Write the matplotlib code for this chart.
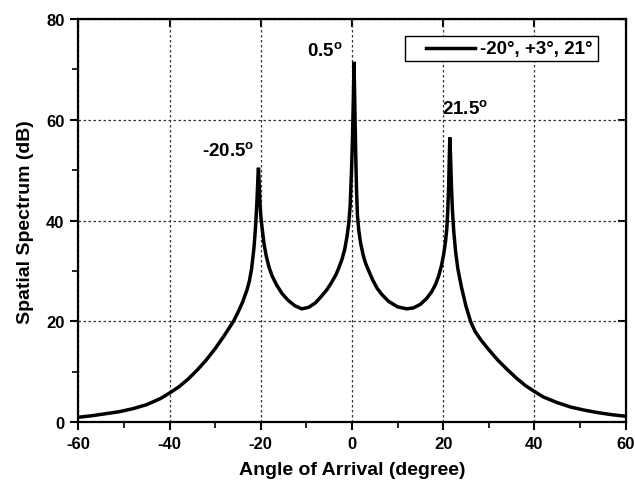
import matplotlib

matplotlib.use("Agg")
import matplotlib.pyplot as plt
from matplotlib.lines import Line2D
from matplotlib.patches import Rectangle
from matplotlib.ticker import MultipleLocator

# spatial spectrum
angle_deg = [
    -60, -57, -54, -51, -48, -45, -42, -40, -38, -36, -34, -32, -30, -28, -26,
    -25, -24, -23, -22.5, -22, -21.5, -21.2, -21.0, -20.8, -20.6, -20.5, -20.4,
    -20.2, -20.0, -19.7, -19.3, -18.8, -18.2, -17.5, -16.5, -15.3, -14.0, -12.5,
    -11.0, -9.5, -8.0, -6.7, -5.5, -4.5, -3.5, -2.9, -2.2, -1.6, -1.1, -0.7,
    -0.4, -0.1, 0.1, 0.3, 0.45, 0.6, 0.8, 1.0, 1.2, 1.5, 1.9, 2.5, 3.0, 3.6,
    4.5, 5.5, 6.5, 8.0, 10.0, 12.0, 13.5, 15.0, 16.3, 17.4, 18.3, 19.0, 19.6,
    20.1, 20.5, 20.8, 21.0, 21.2, 21.35, 21.45, 21.6, 21.8, 22.0, 22.3, 22.7,
    23.2, 24.0, 25.0, 26.0, 27.0, 28.3, 29.8, 32, 34, 36, 38, 40, 42, 45, 48,
    51, 54, 57, 60,
]
spectrum_db = [
    1.0, 1.3, 1.7, 2.1, 2.7, 3.5, 4.7, 5.8, 7.0, 8.5, 10.3, 12.3, 14.6, 17.2, 20.0,
    21.8, 23.8, 26.3, 28.0, 30.5, 34.5, 38.0, 41.0, 44.5, 49.0, 50.5, 48.5,
    44.0, 41.0, 38.5, 35.5, 33.0, 30.8, 29.0, 27.2, 25.5, 24.2, 23.1,
    22.5, 22.8, 23.7, 25.0, 26.3, 27.7, 29.3, 30.6, 32.3, 34.3, 36.8, 39.5,
    43.0, 50.0, 56.0, 64.0, 71.5, 64.0, 54.0, 46.0, 41.0, 38.0, 35.5, 33.0, 31.5, 30.2,
    28.3, 26.6, 25.4, 24.0, 22.9, 22.5, 22.7, 23.4, 24.5, 25.8, 27.3, 29.0, 31.0,
    33.3, 35.8, 38.5, 42.0, 47.0, 53.0, 56.5, 53.0, 47.0, 42.5, 38.0, 34.0,
    30.5, 26.8, 23.0, 20.0, 18.0, 16.3, 14.6, 12.3, 10.5, 8.8, 7.3, 6.1, 5.0, 3.9, 3.0,
    2.4, 1.9, 1.5, 1.2,
]

peak_labels = ["-20.5", "0.5", "21.5"]
peak_label_x = [-27.2, -5.9, 24.8]
peak_label_y = [53.8, 73.8, 62.3]

legend_label = "-20°, +3°, 21°"

plt.rcParams["font.family"] = ["Liberation Sans", "DejaVu Sans"]
plt.rcParams["font.weight"] = "bold"
plt.rcParams["axes.unicode_minus"] = False
plt.rcParams["mathtext.fontset"] = "custom"
plt.rcParams["mathtext.bf"] = "Liberation Sans:bold"
plt.rcParams["mathtext.rm"] = "Liberation Sans:bold"

fig = plt.figure(figsize=(6.35, 4.89), dpi=100)
ax = fig.add_axes([0.1233, 0.1344, 0.862, 0.8247])

ax.plot(angle_deg, spectrum_db, color="black", linewidth=2.5,
        solid_joinstyle="miter", label=legend_label)

for text, x, y in zip(peak_labels, peak_label_x, peak_label_y):
    ax.text(x, y, text + r"$^{\mathbf{o}}$", ha="center", va="center",
            fontsize=13.5, fontweight="bold")

ax.set_xlim(-60, 60)
ax.set_ylim(0, 80)
ax.xaxis.set_major_locator(MultipleLocator(20))
ax.xaxis.set_minor_locator(MultipleLocator(10))
ax.yaxis.set_major_locator(MultipleLocator(20))
ax.yaxis.set_minor_locator(MultipleLocator(10))
ax.tick_params(which="major", direction="out", length=6, width=1.5,
               labelsize=12, pad=4)
ax.tick_params(which="minor", direction="out", length=4, width=1.2)
ax.grid(True, which="major", linestyle=(0, (2, 2)), color="#333333", linewidth=0.9)

top = ax.secondary_xaxis("top")
top.xaxis.set_major_locator(MultipleLocator(20))
top.tick_params(direction="in", length=6, width=1.5)
top.set_xticklabels([])
right = ax.secondary_yaxis("right")
right.yaxis.set_major_locator(MultipleLocator(20))
right.tick_params(direction="in", length=6, width=1.5)
right.set_yticklabels([])

for spine in ax.spines.values():
    spine.set_linewidth(1.6)

ax.set_xlabel("Angle of Arrival (degree)", fontsize=14, fontweight="bold", labelpad=7)
ax.set_ylabel("Spatial Spectrum (dB)", fontsize=14, fontweight="bold", labelpad=9)

# legend box drawn the way the original plotting package lays it out
ax.add_patch(Rectangle((0.597, 0.896), 0.352, 0.062, transform=ax.transAxes,
                       facecolor="white", edgecolor="black", linewidth=1.0, zorder=5))
ax.add_line(Line2D([0.635, 0.725], [0.927, 0.927], transform=ax.transAxes,
                   color="black", linewidth=2.5, zorder=6))
ax.text(0.733, 0.927, legend_label, transform=ax.transAxes, ha="left", va="center",
        fontsize=13.5, fontweight="bold", zorder=6)

fig.savefig("out.png", dpi=100)
